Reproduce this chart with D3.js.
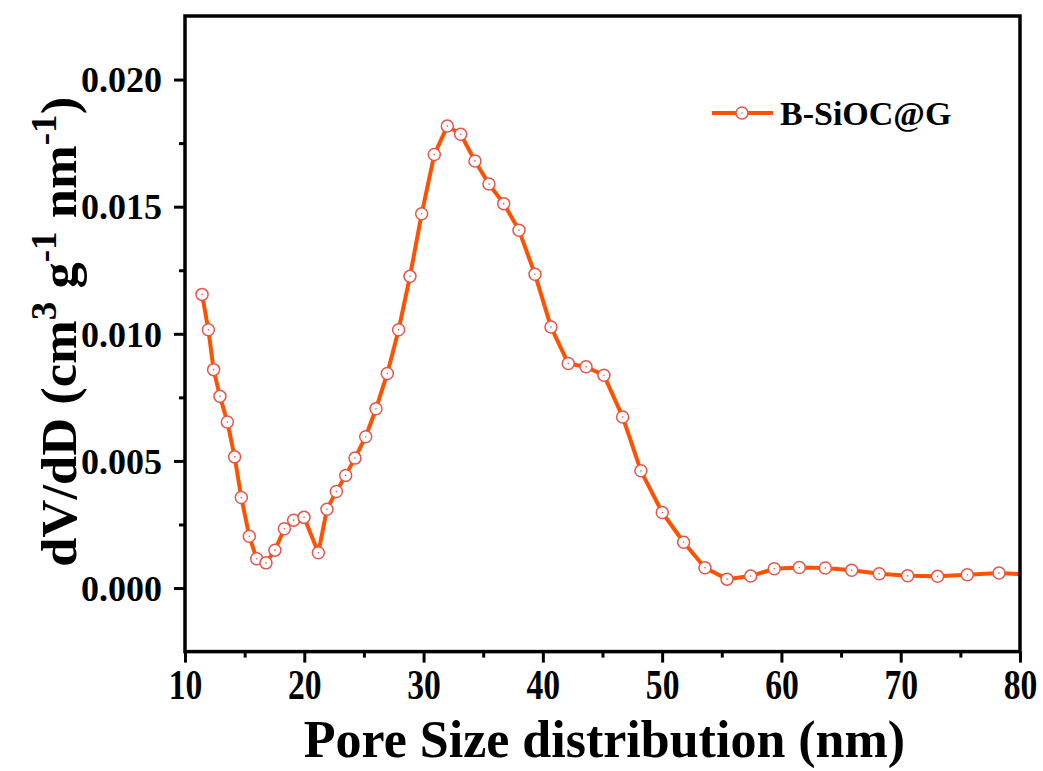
<!DOCTYPE html>
<html>
<head>
<meta charset="utf-8">
<script src="https://cdn.jsdelivr.net/npm/d3@7"></script>
<style>
  html, body { margin: 0; padding: 0; background: #fff; }
  svg { display: block; font-family: "Liberation Serif", "Times New Roman", serif; font-weight: bold; }
</style>
</head>
<body>
<svg id="chart" width="1043" height="771"></svg>
<script>
// Pore size (nm) and differential pore volume dV/dD (cm3 g-1 nm-1)
const poreSize = [
  11.43, 11.96, 12.40, 12.93, 13.55, 14.16, 14.72, 15.39, 16.01, 16.79,
  17.54, 18.33, 19.11, 19.98, 21.18, 21.90, 22.69, 23.47, 24.25, 25.15,
  26.01, 26.96, 27.91, 28.86, 29.84, 30.90, 31.99, 33.11, 34.31, 35.48,
  36.72, 38.00, 39.34, 40.68, 42.13, 43.62, 45.12, 46.69, 48.22, 50.01,
  51.80, 53.59, 55.44, 57.42, 59.40, 61.50, 63.68, 65.89, 68.20, 70.58,
  73.09, 75.58, 78.24, 81.00
];
const dVdD = [
  0.01155, 0.01016, 0.00859, 0.00754, 0.00653, 0.00516, 0.00356, 0.00204, 0.00115, 0.00099,
  0.00149, 0.00233, 0.00267, 0.00278, 0.00139, 0.00310, 0.00380, 0.00443, 0.00511, 0.00595,
  0.00705, 0.00844, 0.01016, 0.01226, 0.01472, 0.01705, 0.01817, 0.01785, 0.01680, 0.01589,
  0.01512, 0.01407, 0.01234, 0.01027, 0.00883, 0.00870, 0.00837, 0.00673, 0.00461, 0.00297,
  0.00180, 0.00080, 0.00035, 0.00047, 0.00076, 0.00081, 0.00079, 0.00070, 0.00056, 0.00048,
  0.00046, 0.00052, 0.00059, 0.00052
];
const seriesName = "B-SiOC@G";
const xTicks = [10, 20, 30, 40, 50, 60, 70, 80];
const xMinorTicks = [15, 25, 35, 45, 55, 65, 75];
const yTicks = [0.000, 0.005, 0.010, 0.015, 0.020];
const yMinorTicks = [0.0025, 0.0075, 0.0125, 0.0175];

const lineColor = "#ff5200";
const markerColor = "#e4564c";

const svg = d3.select("#chart");
const plot = { left: 185, right: 1020, top: 16, bottom: 651.6 };

const x = d3.scaleLinear().domain([10, 80]).range([plot.left, plot.right]);
const y = d3.scaleLinear().domain([-0.0025, 0.0225]).range([plot.bottom, plot.top]);

const data = poreSize.map((d, i) => ({ x: d, y: dVdD[i] }));

svg.append("defs").append("clipPath").attr("id", "plotClip")
  .append("rect")
  .attr("x", plot.left).attr("y", plot.top)
  .attr("width", plot.right - plot.left).attr("height", plot.bottom - plot.top);

// Series: line with open circle markers
const g = svg.append("g").attr("clip-path", "url(#plotClip)");
g.append("path")
  .datum(data)
  .attr("fill", "none")
  .attr("stroke", lineColor)
  .attr("stroke-width", 4)
  .attr("stroke-linejoin", "round")
  .attr("d", d3.line().x(d => x(d.x)).y(d => y(d.y)));

const marks = g.selectAll("g.mark").data(data).join("g").attr("class", "mark")
  .attr("transform", d => `translate(${x(d.x)},${y(d.y)})`);
marks.append("circle").attr("r", 6).attr("fill", "#fff")
  .attr("stroke", markerColor).attr("stroke-width", 1.5);
marks.append("circle").attr("r", 0.8).attr("fill", markerColor);

// Axes (outward major and minor ticks)
const xAxis = svg.append("g").attr("transform", `translate(0,${plot.bottom})`)
  .call(d3.axisBottom(x).tickValues(xTicks).tickSize(11).tickPadding(7).tickFormat(d3.format("d")));
const xMinor = svg.append("g").attr("transform", `translate(0,${plot.bottom})`)
  .call(d3.axisBottom(x).tickValues(xMinorTicks).tickSize(6).tickFormat(""));
const yAxis = svg.append("g").attr("transform", `translate(${plot.left},0)`)
  .call(d3.axisLeft(y).tickValues(yTicks).tickSize(11).tickPadding(12).tickFormat(d3.format(".3f")));
const yMinor = svg.append("g").attr("transform", `translate(${plot.left},0)`)
  .call(d3.axisLeft(y).tickValues(yMinorTicks).tickSize(6).tickFormat(""));

[xAxis, xMinor, yAxis, yMinor].forEach(a => {
  a.select(".domain").remove();
  a.selectAll(".tick line").attr("stroke", "#000").attr("stroke-width", 3);
});

// narrow numerals along the x axis
xAxis.selectAll(".tick text")
  .attr("fill", "#000")
  .attr("transform", "scale(0.8,1)")
  .style("font-family", "'Liberation Serif', serif")
  .style("font-weight", "bold")
  .style("font-size", "42px");

yAxis.selectAll(".tick text")
  .attr("fill", "#000")
  .attr("dy", "0.34em")
  .style("font-family", "'Liberation Serif', serif")
  .style("font-weight", "bold")
  .style("font-size", "36px");

// Frame
svg.append("rect")
  .attr("x", plot.left).attr("y", plot.top)
  .attr("width", plot.right - plot.left).attr("height", plot.bottom - plot.top)
  .attr("fill", "none").attr("stroke", "#000").attr("stroke-width", 3.5);

// Axis titles
svg.append("text")
  .attr("x", 604.5)
  .attr("y", 757)
  .attr("text-anchor", "middle")
  .style("font-size", "52px")
  .text("Pore Size distribution (nm)");

const yTitleG = svg.append("g")
  .attr("transform", `translate(76,${(plot.top + plot.bottom) / 2 - 2}) rotate(-90)`);
const yt = yTitleG.append("text")
  .attr("text-anchor", "middle")
  .style("font-size", "51px");
const supShift = 20;
yt.append("tspan").text("dV/dD (cm");
yt.append("tspan").attr("dy", -supShift).style("font-size", "36px").text("3");
yt.append("tspan").attr("dy", supShift).text(" g");
yt.append("tspan").attr("dy", -supShift).style("font-size", "36px").text("-1");
yt.append("tspan").attr("dy", supShift).text(" nm");
yt.append("tspan").attr("dy", -supShift).style("font-size", "36px").text("-1");
yt.append("tspan").attr("dy", supShift).text(")");
// fit the title to the span it occupies along the axis
const ytLen = yt.node().getComputedTextLength();
yt.attr("transform", `scale(${470 / ytLen},1)`);

// Legend
const lg = svg.append("g").attr("transform", "translate(712,113)");
lg.append("line").attr("x1", 0).attr("x2", 61).attr("y1", 0).attr("y2", 0)
  .attr("stroke", lineColor).attr("stroke-width", 4);
lg.append("circle").attr("cx", 30).attr("r", 6).attr("fill", "#fff")
  .attr("stroke", markerColor).attr("stroke-width", 1.5);
lg.append("circle").attr("cx", 30).attr("r", 0.8).attr("fill", markerColor);
lg.append("text").attr("x", 68).attr("y", 0).attr("dy", "0.35em")
  .style("font-size", "34px").text(seriesName);
</script>
</body>
</html>
